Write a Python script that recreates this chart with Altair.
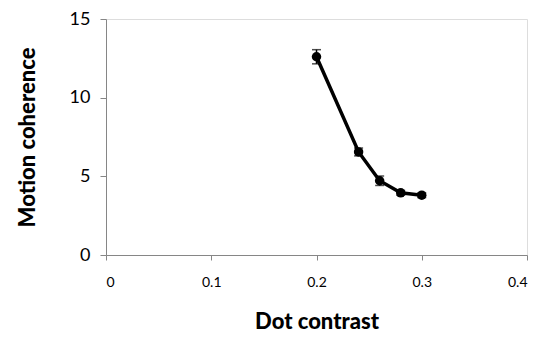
import altair as alt
import pandas as pd

contrast = [0.20, 0.24, 0.26, 0.28, 0.30]
coherence = [12.6, 6.55, 4.72, 3.95, 3.8]
err = [0.45, 0.25, 0.3, 0.15, 0.15]

df = pd.DataFrame({"x": contrast, "y": coherence, "err": err})
df["lo"] = df["y"] - df["err"]
df["hi"] = df["y"] + df["err"]

FONT = "Lato"
xs = alt.Scale(domain=[0, 0.4], nice=False)
ys = alt.Scale(domain=[0, 15], nice=False)

x_enc = alt.X("x:Q", scale=xs, title="Dot contrast",
              axis=alt.Axis(values=[0, 0.1, 0.2, 0.3, 0.4], format="~g", grid=False,
                            domainColor="#868686", tickColor="#868686", tickSize=5,
                            labelFont=FONT, labelFontSize=14, labelColor="#000",
                            labelPadding=15, titleFont=FONT, titleFontSize=22,
                            titleFontWeight=900, titleColor="#000", titlePadding=22))
y_enc = alt.Y("y:Q", scale=ys, title="Motion coherence",
              axis=alt.Axis(values=[0, 5, 10, 15], grid=False,
                            domainColor="#868686", tickColor="#868686", tickSize=6,
                            labelFont=FONT, labelFontSize=18, labelColor="#000",
                            labelPadding=10, titleFont=FONT, titleFontSize=22,
                            titleFontWeight=900, titleColor="#000", titlePadding=30))

base = alt.Chart(df)
line = base.mark_line(color="black", strokeWidth=3.5).encode(x=x_enc, y=y_enc)
pts = base.mark_point(filled=True, color="black", size=90, opacity=1).encode(x="x:Q", y="y:Q")
bars = base.mark_rule(color="black", strokeWidth=1.5).encode(x="x:Q", y="lo:Q", y2="hi:Q")
cap_hi = base.mark_tick(color="black", thickness=1.5, size=9, orient="horizontal").encode(x="x:Q", y="hi:Q")
cap_lo = base.mark_tick(color="black", thickness=1.5, size=9, orient="horizontal").encode(x="x:Q", y="lo:Q")

chart = alt.layer(bars, cap_hi, cap_lo, line, pts).properties(
    width=421, height=236,
    autosize=alt.AutoSizeParams(type="none"),
    padding={"left": 106, "top": 19, "right": 11, "bottom": 89},
).configure_view(stroke=None).configure(background="white")

chart.save("out.html", embed_options={"renderer": "svg", "actions": False})
